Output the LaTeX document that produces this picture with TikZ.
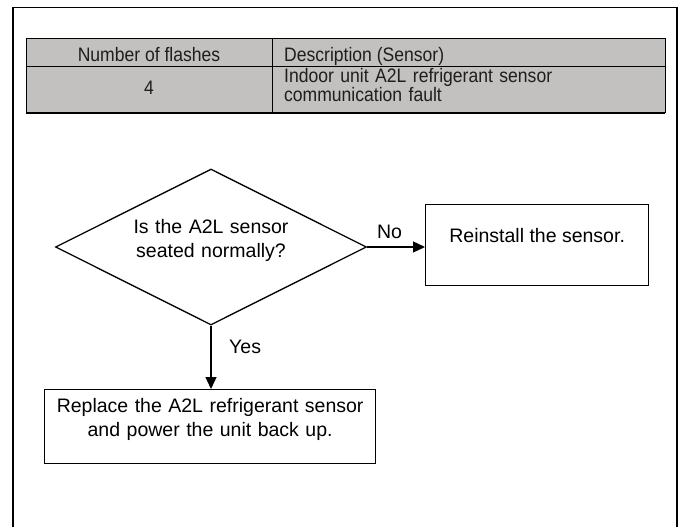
\documentclass[tikz,border=0pt]{standalone}
\usepackage{fontspec}
\setmainfont{Liberation Sans}
\newfontfamily\condfont[FakeStretch=0.9]{Liberation Sans}
\usetikzlibrary{arrows.meta,shapes.geometric,positioning}
\definecolor{tblgray}{RGB}{194,193,191}
\definecolor{tbltext}{RGB}{30,30,30}

\begin{document}
\begin{tikzpicture}[x=1pt,y=-1pt,
    cell/.style={font=\condfont\fontsize{19.5}{16}\selectfont,text=tbltext,inner sep=0pt},
    flow/.style={font=\fontsize{19.5}{24}\selectfont,inner sep=0pt},
    decision/.style={draw,diamond,minimum width=311pt,minimum height=156pt,inner sep=0pt,line width=1.3pt},
    action/.style={draw,rectangle,inner sep=0pt,line width=1.3pt,align=center,font=\fontsize{19.5}{24}\selectfont},
    arr/.style={-{Triangle[length=12pt,width=11pt]},line width=1.3pt}]
  \useasboundingbox (0,0) rectangle (679,527);
  \draw[line width=1.3pt] (13,527) -- (13,7.5) -- (677,7.5) -- (677,527);
  \fill[tblgray] (26,39) rectangle (665,113);
  \draw[line width=1pt] (26,113) -- (26,39) -- (665,39) -- (665,113);
  \draw[line width=1pt] (26,66.7) -- (665,66.7);
  \draw[line width=1pt] (272,39) -- (272,113);
  \draw[line width=2.5pt] (26,113) -- (665,113);
  \node[cell,anchor=base] (hdnum) at (149,61) {Number of flashes};
  \node[cell,anchor=base west] (hddesc) at (284,61) {Description (Sensor)};
  \node[cell,anchor=base] (valnum) at (149,94) {4};
  \node[cell,anchor=base west,text width=370pt,align=left] (valdesc) at (284,82) {Indoor unit A2L refrigerant sensor\\communication fault};

  \node[decision] (chk) at (211,247) {};
  \node[flow,anchor=base,text width=220pt,align=center] (chklbl) at (211,233) {Is the A2L sensor\\seated normally?};
  \node[action,minimum width=223pt,text height=38pt,text depth=43pt,anchor=north west] (rein) at (425,204) {Reinstall the sensor.};
  \node[action,text width=331pt,text height=23pt,text depth=51pt,anchor=north west] (repl) at (44,389) {Replace the A2L refrigerant sensor\\and power the unit back up.};
  \draw[arr] (chk.east) -- (chk.east -| rein.west);
  \draw[arr] (chk.south) -- (chk.south |- repl.north);
  \node[flow,anchor=base] (nolbl) at (389.5,238) {No};
  \node[flow,anchor=base west] (yeslbl) at (229,353) {Yes};
\end{tikzpicture}
\end{document}
